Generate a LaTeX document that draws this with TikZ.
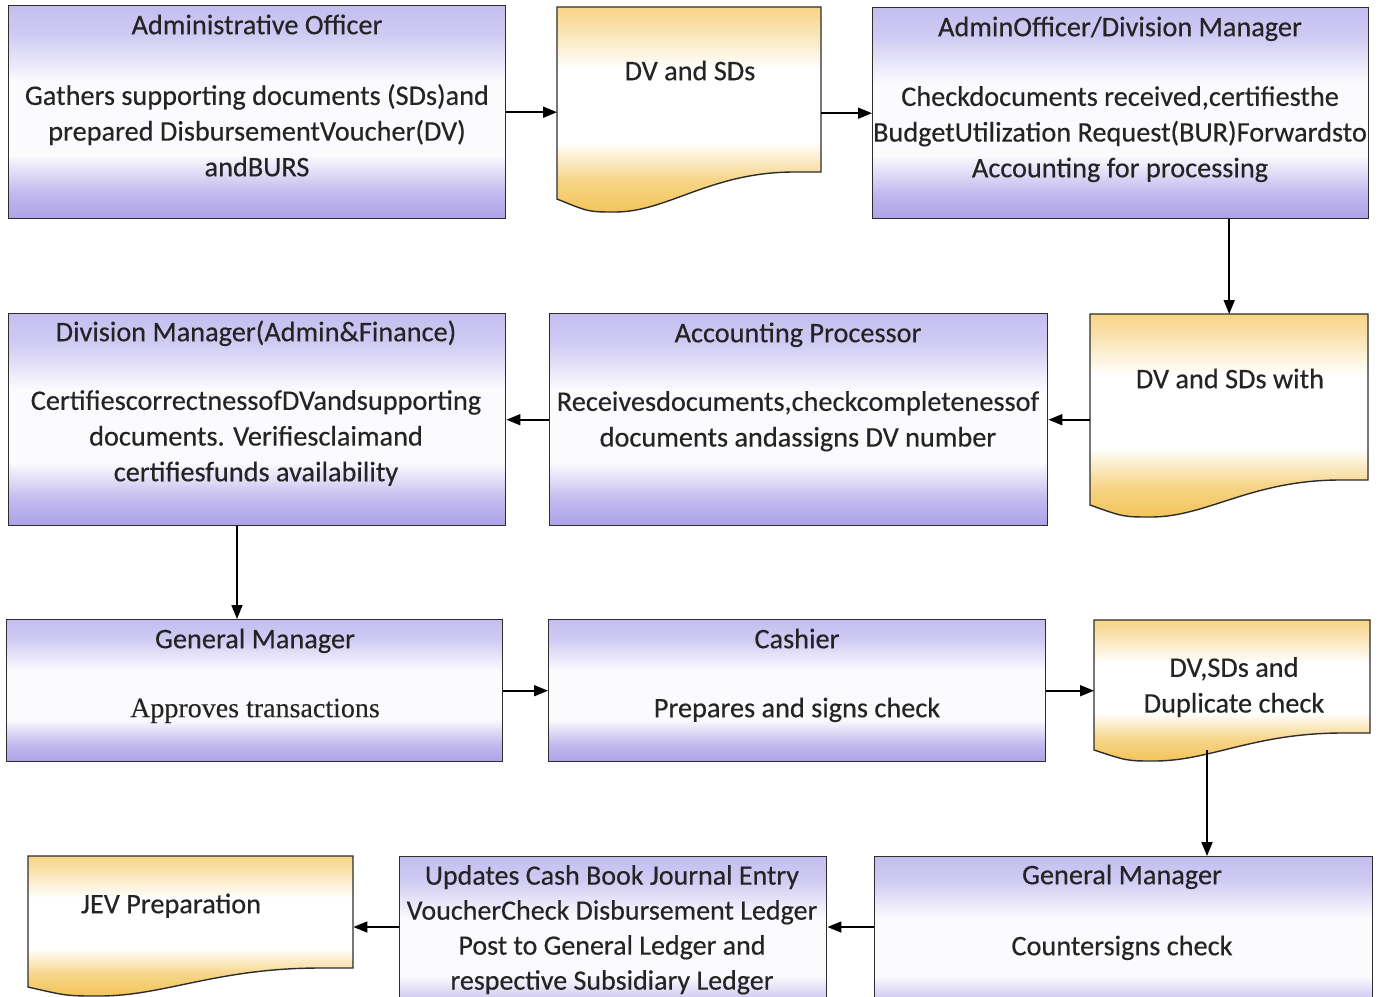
\documentclass[tikz,border=0pt]{standalone}
\usepackage{fontspec}
\setmainfont{Carlito}[FakeBold=0.35]
\newfontfamily\serifface{Liberation Serif}[FakeBold=0.25]
\usetikzlibrary{arrows.meta}
\definecolor{boxtop}{RGB}{196,190,240}
\definecolor{boxbot}{RGB}{172,162,232}
\definecolor{doctop}{RGB}{247,212,135}
\definecolor{docbot}{RGB}{243,196,88}
\definecolor{edge}{RGB}{45,45,45}
\definecolor{ink}{RGB}{36,36,36}
\pgfdeclareverticalshading{boxshade}{100bp}{color(0bp)=(boxbot); color(25bp)=(boxbot); color(31bp)=(boxbot!75!white); color(40bp)=(white!94!boxtop); color(57bp)=(white!94!boxtop); color(68bp)=(boxtop!80!white); color(75bp)=(boxtop); color(100bp)=(boxtop)}
\pgfdeclareverticalshading{docshade}{100bp}{color(0bp)=(docbot); color(25bp)=(docbot); color(33bp)=(docbot!70!white); color(42bp)=(white); color(60bp)=(white); color(70bp)=(doctop!70!white); color(75bp)=(doctop); color(100bp)=(doctop)}
% document shape: L R T yLeftBottom yRightBottom depth
\newcommand\docpath[6]{(#1,#3) -- (#2,#3) -- (#2,#5) -- ({#2-0.1*(#2-#1)},#5) .. controls ({#1+0.58*(#2-#1)},#5) and ({#1+0.42*(#2-#1)},{#4+#6}) .. ({#1+0.22*(#2-#1)},{#4+#6}) .. controls ({#1+0.12*(#2-#1)},{#4+#6}) .. (#1,#4) -- cycle}
\tikzset{
  x=1pt, y=-1pt,
  procbox/.style={draw=edge, line width=1.4pt, shading=boxshade, inner sep=0pt, anchor=north west},
  docfill/.style={draw=edge, line width=1.4pt, shading=docshade},
  docarea/.style={inner sep=0pt, anchor=north west},
  txt/.style={inner sep=0pt, anchor=north, align=center, text=ink,
    font=\fontsize{28.3}{35.7}\selectfont, execute at begin node={\rule{0pt}{22pt}}},
  arr/.style={line width=1.7pt, -{Triangle[length=14pt,width=11pt]}, black},
}
\begin{document}
\begin{tikzpicture}
\useasboundingbox (0,0) rectangle (1386,996);
\clip (0,0) rectangle (1386,996);
\fill[white] (0,0) rectangle (1386,996);

% ---- row 1
\node[procbox, minimum width=497pt, minimum height=213pt] (ao) at (8,5) {};
\node[txt] (aot) at (257,12) {Administrative Officer};
\node[txt] (aob) at (257,84) {Gathers supporting documents (SDs)and\\prepared DisbursementVoucher(DV)\\andBURS};

\shadedraw[docfill] \docpath{557}{821}{7}{199}{172}{13};
\node[docarea, minimum width=264pt, minimum height=192pt] (dv1) at (557,7) {};
\node[txt] (dv1t) at (690,58) {DV and SDs};

\node[procbox, minimum width=496pt, minimum height=211pt] (aodm) at (872,7) {};
\node[txt] (aodmt) at (1120,14) {AdminOfficer/Division Manager};
\node[txt] (aodmb) at (1120,86) {Checkdocuments received,certifiesthe\\BudgetUtilization Request(BUR)Forwardsto\\Accounting for processing};

% ---- row 2
\shadedraw[docfill] \docpath{1090}{1368}{314}{505}{480}{12};
\node[docarea, minimum width=278pt, minimum height=191pt] (dv2) at (1090,314) {};
\node[txt] (dv2t) at (1230,366) {DV and SDs with};

\node[procbox, minimum width=498pt, minimum height=212pt] (ap) at (549,313) {};
\node[txt] (apt) at (798,320) {Accounting Processor};
\node[txt] (apb) at (798,391) {Receivesdocuments,checkcompletenessof\\documents andassigns DV number};

\node[procbox, minimum width=497pt, minimum height=212pt] (dm) at (8,313) {};
\node[txt] (dmt) at (256,319) {Division Manager(Admin\&Finance)};
\node[txt] (dmb) at (256,390) {CertifiescorrectnessofDVandsupporting\\documents. Verifiesclaimand\\certifiesfunds availability};

% ---- row 3
\node[procbox, minimum width=496pt, minimum height=142pt] (gm) at (6,619) {};
\node[txt] (gmt) at (255,626) {General Manager};
\node[txt, font=\serifface\fontsize{28}{34}\selectfont] (gmb) at (255,695) {Approves transactions};

\node[procbox, minimum width=497pt, minimum height=142pt] (ca) at (548,619) {};
\node[txt] (cat) at (797,626) {Cashier};
\node[txt] (cab) at (797,695) {Prepares and signs check};

\shadedraw[docfill] \docpath{1094}{1370}{620}{750}{733}{11};
\node[docarea, minimum width=276pt, minimum height=130pt] (dv3) at (1094,620) {};
\node[txt] (dv3t) at (1234,657) {DV,SDs and\\Duplicate check};

% ---- row 4
\node[procbox, minimum width=498pt, minimum height=170pt] (gm2) at (874,856) {};
\node[txt] (gm2t) at (1122,862) {General Manager};
\node[txt] (gm2b) at (1122,933) {Countersigns check};

\node[procbox, minimum width=427pt, minimum height=170pt] (up) at (399,856) {};
\node[txt, font=\fontsize{28}{35}\selectfont] (upt) at (612,865) {Updates Cash Book Journal Entry\\VoucherCheck Disbursement Ledger\\Post to General Ledger and\\respective Subsidiary Ledger};

\shadedraw[docfill] \docpath{28}{353}{856}{987}{968}{9};
\node[docarea, minimum width=325pt, minimum height=131pt] (jev) at (28,856) {};
\node[txt] (jevt) at (171,891) {JEV Preparation};

% ---- connectors
\coordinate (xa) at (237,0);
\coordinate (xb) at (1207,0);
\coordinate (yr) at (0,927);
\draw[arr] (ao.east) -- (ao.east -| dv1.west);
\draw[arr] (aodm.west -| dv1.east) -- (aodm.west);
\draw[arr] (dv2.north |- aodm.south) -- (dv2.north);
\draw[arr] (dv2.west |- ap.east) -- (ap.east);
\draw[arr] (ap.west) -- (dm.east);
\draw[arr] (dm.south -| xa) -- (gm.north -| xa);
\draw[arr] (gm.east) -- (ca.west);
\draw[arr] (ca.east) -- (ca.east -| dv3.west);
\draw[arr] (xb |- dv3.south) -- (xb |- gm2.north);
\draw[arr] (gm2.west |- yr) -- (up.east |- yr);
\draw[arr] (up.west |- yr) -- (jev.east |- yr);
\end{tikzpicture}
\end{document}
